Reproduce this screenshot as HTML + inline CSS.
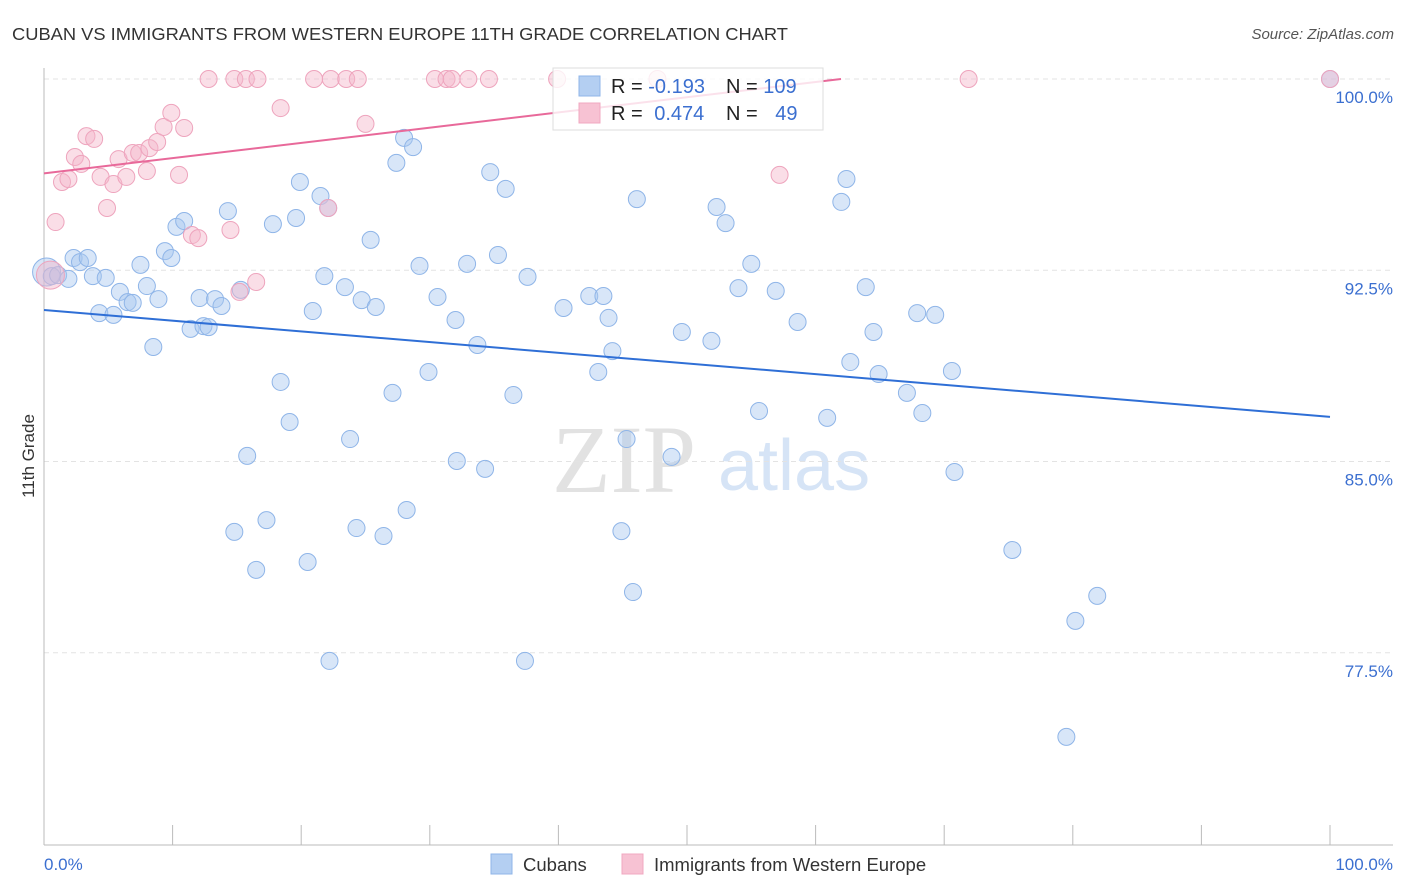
<!DOCTYPE html>
<html><head><meta charset="utf-8"><style>
body{margin:0;background:#fff;font-family:"Liberation Sans",sans-serif;}
svg{display:block}
</style></head><body>
<svg id="chart" width="1406" height="892">
<text x="12" y="40" font-size="17.5" fill="#333" textLength="776" lengthAdjust="spacingAndGlyphs">CUBAN VS IMMIGRANTS FROM WESTERN EUROPE 11TH GRADE CORRELATION CHART</text>
<text x="1394" y="39" font-size="15" fill="#555" font-style="italic" text-anchor="end">Source: ZipAtlas.com</text>
<text x="0" y="0" transform="translate(34,456) rotate(-90)" font-size="17" fill="#333" text-anchor="middle">11th Grade</text>
<g>
<text x="552" y="492" font-size="96" fill="#e2e2e2" font-family="Liberation Serif,serif">ZIP</text>
<text x="718" y="490" font-size="72" fill="#d6e4f6">atlas</text>
</g>
<g id="grid"></g>
<g id="axes"></g>
<g id="pts"></g>
<g id="lines"></g>
<g>
<rect x="553" y="68" width="270" height="62" fill="#fff" fill-opacity="0.8" stroke="#ddd"/>
<rect x="579" y="76" width="21" height="20" fill="#b4cff2" stroke="#8fb5e8"/>
<rect x="579" y="103" width="21" height="20" fill="#f7c2d3" stroke="#f0a8c0"/>
<text x="611" y="93" font-size="20" fill="#222">R = <tspan fill="#3b6fd0">-0.193</tspan></text>
<text x="726" y="93" font-size="20" fill="#222">N = <tspan fill="#3b6fd0">109</tspan></text>
<text x="611" y="120" font-size="20" fill="#222">R = <tspan fill="#3b6fd0" dx="6">0.474</tspan></text>
<text x="726" y="120" font-size="20" fill="#222">N = <tspan fill="#3b6fd0" dx="12">49</tspan></text>
</g>
<g>
<rect x="491" y="854" width="21" height="20" fill="#b4cff2" stroke="#8fb5e8"/>
<text x="523" y="871" font-size="18.5" fill="#333">Cubans</text>
<rect x="622" y="854" width="21" height="20" fill="#f7c2d3" stroke="#f0a8c0"/>
<text x="654" y="871" font-size="18.5" fill="#333">Immigrants from Western Europe</text>
</g>
</svg>
<script>
const yTicks=[100,92.5,85,77.5];
const yTickLabels=["100.0%","92.5%","85.0%","77.5%"];
const xTickLabels=["0.0%","100.0%"];
const cubX=[0.2,0.6,1.1,1.9,2.3,2.8,3.4,3.8,4.3,4.8,5.4,5.9,6.5,6.9,7.5,8.0,8.5,8.9,9.4,9.9,10.3,10.9,11.4,12.1,12.4,12.8,13.3,13.8,14.3,14.8,15.3,15.8,16.5,17.3,17.8,18.4,19.1,19.6,19.9,20.5,20.9,21.5,21.8,22.2,22.1,23.4,23.8,24.3,24.7,25.4,25.8,26.4,27.1,27.4,28.0,28.2,28.7,29.2,29.9,30.6,32.0,32.1,32.9,33.7,34.3,34.7,35.3,35.9,36.5,37.4,37.6,40.4,42.4,43.1,43.5,43.9,44.2,44.9,45.3,45.8,46.1,48.8,49.6,51.9,52.3,53.0,54.0,55.0,55.6,56.9,58.6,60.9,62.0,62.4,62.7,63.9,64.5,64.9,67.1,67.9,68.3,69.3,70.6,70.8,75.3,79.5,80.2,81.9,100];
const cubY=[92.43,92.27,92.31,92.16,92.98,92.82,92.98,92.27,90.82,92.2,90.75,91.65,91.25,91.22,92.71,91.88,89.49,91.37,93.25,92.98,94.2,94.43,90.2,91.41,90.31,90.27,91.37,91.1,94.82,82.24,91.73,85.22,80.75,82.7,94.31,88.12,86.55,94.55,95.96,81.06,90.9,95.41,92.27,77.18,94.94,91.84,85.88,82.39,91.33,93.69,91.06,82.08,87.69,96.71,97.69,83.1,97.33,92.67,88.51,91.45,90.55,85.02,92.75,89.57,84.71,96.35,93.1,95.69,87.61,77.18,92.24,91.02,91.49,88.51,91.49,90.63,89.33,82.27,85.88,79.88,95.29,85.18,90.08,89.73,94.98,94.35,91.8,92.75,86.98,91.69,90.47,86.71,95.18,96.08,88.9,91.84,90.08,88.43,87.69,90.82,86.9,90.75,88.55,84.59,81.53,74.2,78.75,79.73,100];
const immX=[0.5,0.9,1.4,1.9,2.4,2.9,3.3,3.9,4.4,4.9,5.4,5.8,6.4,6.9,7.4,8.0,8.2,8.8,9.3,9.9,10.5,10.9,11.5,12.0,12.8,14.5,14.8,15.2,15.7,16.5,16.6,18.4,21.0,22.1,22.3,23.5,24.4,25.0,30.4,31.3,31.7,33.0,34.6,39.9,47.7,57.2,71.9,100];
const immY=[92.31,94.39,95.96,96.08,96.94,96.67,97.76,97.65,96.16,94.94,95.88,96.86,96.16,97.1,97.1,96.39,97.29,97.53,98.12,98.67,96.24,98.08,93.88,93.76,100,94.08,100,91.65,100,92.04,100,98.86,100,94.94,100,100,100,98.24,100,100,100,100,100,100,100,96.24,100,100];
const cubTrend=[90.94,86.75];
const immTrend=[96.3,102.27];

const NS="http://www.w3.org/2000/svg";
const X0=44,X1=1330,Y100=79,PXPER=25.5;
function sx(v){return X0+(X1-X0)*v/100;}
function sy(v){return Y100+(100-v)*PXPER;}
function mk(tag,attrs,parent){const e=document.createElementNS(NS,tag);for(const k in attrs)e.setAttribute(k,attrs[k]);parent.appendChild(e);return e;}
const grid=document.getElementById('grid'),axes=document.getElementById('axes'),pts=document.getElementById('pts'),lines=document.getElementById('lines');
yTicks.forEach((t,i)=>{
 const l=mk('line',{x1:44,x2:1393,y1:sy(t),y2:sy(t),stroke:'#e3e3e3','stroke-dasharray':'5,4'},grid);
 
 
 const tx=mk('text',{x:1393,y:sy(t)+24,'font-size':17,fill:'#3b6fd0','text-anchor':'end'},axes);
 tx.textContent=yTickLabels[i];
 
 
});
let a=mk('line',{x1:44,x2:44,y1:68,y2:845,stroke:'#bbb'},axes);


a=mk('line',{x1:44,x2:1393,y1:845,y2:845,stroke:'#bbb'},axes);


for(let i=0;i<=10;i++){
 const t=mk('line',{x1:sx(i*10),x2:sx(i*10),y1:825,y2:845,stroke:'#bbb'},axes);
 
 
}
let xl=mk('text',{x:44,y:870,'font-size':17,fill:'#3b6fd0'},axes);xl.textContent=xTickLabels[0];


xl=mk('text',{x:1393,y:870,'font-size':17,fill:'#3b6fd0','text-anchor':'end'},axes);xl.textContent=xTickLabels[1];


function drawPts(xs,ys,fill,stroke,name,bigIdx){
 xs.forEach((x,i)=>{
  const c=mk('circle',{cx:sx(x),cy:sy(ys[i]),r:i===bigIdx?14:8.5,fill:fill,'fill-opacity':0.45,stroke:stroke,'stroke-width':1},pts);
  
  
 });
}
drawPts(cubX,cubY,'#a9c8f0','#8fb5e8','cubans-point',0);
drawPts(immX,immY,'#f5b5ca','#eea4bd','immigrants-point',0);
let tl=mk('line',{x1:sx(0),x2:sx(100),y1:sy(cubTrend[0]),y2:sy(cubTrend[1]),stroke:'#2f6fd6','stroke-width':2},lines);


const xEnd=(100-immTrend[0])/(immTrend[1]-immTrend[0])*100;
tl=mk('line',{x1:sx(0),x2:sx(xEnd),y1:sy(immTrend[0]),y2:sy(100),stroke:'#e8699a','stroke-width':2},lines);


</script>
</body></html>
